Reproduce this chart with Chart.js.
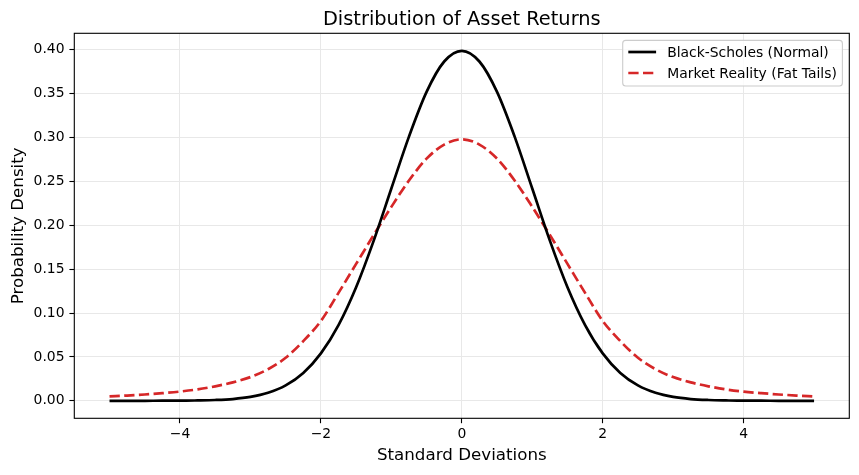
<!DOCTYPE html>
<html>
<head>
<meta charset="utf-8">
<script src="https://cdn.jsdelivr.net/npm/chart.js@4.4.0/dist/chart.umd.min.js"></script>
<style>
  html, body { margin: 0; padding: 0; background: #fff; }
  #wrap { width: 859px; height: 475px; }
</style>
</head>
<body>
<div id="wrap"><canvas id="chart" width="859" height="475"></canvas></div>
<script>
// Dữ liệu
const xValues = [-5, -4.75, -4.5, -4.25, -4, -3.75, -3.5, -3.25, -3, -2.75, -2.5, -2.25, -2, -1.75, -1.5, -1.25, -1, -0.75, -0.5, -0.25,
  0, 0.25, 0.5, 0.75, 1, 1.25, 1.5, 1.75, 2, 2.25, 2.5, 2.75, 3, 3.25, 3.5, 3.75, 4, 4.25, 4.5, 4.75, 5];
const normalValues = [0.0000, 0.0000, 0.0000, 0.0001, 0.0001, 0.0004, 0.0009, 0.0020, 0.0044, 0.0091, 0.0175, 0.0317, 0.0540, 0.0863, 0.1295, 0.1826, 0.2420, 0.3011, 0.3521, 0.3867,
  0.3989, 0.3867, 0.3521, 0.3011, 0.2420, 0.1826, 0.1295, 0.0863, 0.0540, 0.0317, 0.0175, 0.0091, 0.0044, 0.0020, 0.0009, 0.0004, 0.0001, 0.0001, 0.0000, 0.0000, 0.0000];
const fatTailValues = [0.0050, 0.0060, 0.0072, 0.0087, 0.0105, 0.0130, 0.0165, 0.0210, 0.0270, 0.0360, 0.0490, 0.0680, 0.0910, 0.1230, 0.1560, 0.1890, 0.2210, 0.2510, 0.2760, 0.2920,
  0.2980, 0.2920, 0.2760, 0.2510, 0.2210, 0.1890, 0.1560, 0.1230, 0.0910, 0.0680, 0.0490, 0.0360, 0.0270, 0.0210, 0.0165, 0.0130, 0.0105, 0.0087, 0.0072, 0.0060, 0.0050];
const seriesLabels = ['Black-Scholes (Normal)', 'Market Reality (Fat Tails)'];
const xTickValues = [-4, -2, 0, 2, 4];
const yTickValues = [0, 0.05, 0.10, 0.15, 0.20, 0.25, 0.30, 0.35, 0.40];
const chartTitle = 'Distribution of Asset Returns';

const FONT = 'DejaVu Sans';

// Khung, tiêu đề và chú thích kiểu matplotlib
const mplDecor = {
  id: 'mplDecor',
  afterDraw(chart) {
    const { ctx, chartArea: a } = chart;
    ctx.save();
    // khung trục
    ctx.strokeStyle = '#000';
    ctx.lineWidth = 1.1;
    ctx.strokeRect(a.left, a.top, a.right - a.left, a.bottom - a.top);

    // tiêu đề
    ctx.fillStyle = '#000';
    ctx.font = '19.4px "' + FONT + '"';
    ctx.textAlign = 'center';
    ctx.textBaseline = 'alphabetic';
    ctx.fillText(chartTitle, (a.left + a.right) / 2, 25);

    // chú thích
    const bx = 622.7, by = 40.4, bw = 219.7, bh = 45.6;
    ctx.beginPath();
    ctx.roundRect(bx, by, bw, bh, 3);
    ctx.fillStyle = 'rgba(255,255,255,0.8)';
    ctx.fill();
    ctx.strokeStyle = '#cccccc';
    ctx.lineWidth = 1.1;
    ctx.stroke();

    ctx.font = '13.9px "' + FONT + '"';
    ctx.textAlign = 'left';
    ctx.textBaseline = 'middle';
    chart.data.datasets.forEach((ds, i) => {
      const y = 52 + i * 21;
      ctx.beginPath();
      ctx.setLineDash(ds.borderDash || []);
      ctx.strokeStyle = ds.borderColor;
      ctx.lineWidth = ds.borderWidth;
      ctx.moveTo(628.3, y);
      ctx.lineTo(656.1, y);
      ctx.stroke();
      ctx.setLineDash([]);
      ctx.fillStyle = '#000';
      ctx.fillText(ds.label, 667.2, y + 1);
    });
    ctx.restore();
  }
};

const ctx = document.getElementById('chart').getContext('2d');
new Chart(ctx, {
  type: 'line',
  data: {
    datasets: [{
      label: seriesLabels[0],
      data: xValues.map((x, i) => ({ x: x, y: normalValues[i] })),
      borderColor: '#000000',
      borderWidth: 2.7,
      pointRadius: 0,
      fill: false,
      cubicInterpolationMode: 'monotone'
    }, {
      label: seriesLabels[1],
      data: xValues.map((x, i) => ({ x: x, y: fatTailValues[i] })),
      borderColor: '#d62728',
      borderWidth: 2.7,
      borderDash: [10.3, 4.4],
      pointRadius: 0,
      fill: false,
      cubicInterpolationMode: 'monotone'
    }]
  },
  options: {
    responsive: false,
    animation: false,
    devicePixelRatio: 1,
    layout: { padding: { top: 33.3, right: 9.7, left: 0, bottom: 0 } },
    plugins: {
      legend: { display: false },
      title: { display: false },
      tooltip: { enabled: false }
    },
    scales: {
      x: {
        type: 'linear',
        min: -5.5,
        max: 5.5,
        afterBuildTicks: (scale) => { scale.ticks = xTickValues.map(v => ({ value: v })); },
        afterFit: (scale) => { scale.height = 56.7; },
        border: { display: false },
        grid: { color: '#e8e8e8', lineWidth: 1, tickColor: '#000', tickLength: 4.9, tickWidth: 1.1 },
        ticks: {
          color: '#000',
          padding: 3,
          maxRotation: 0,
          font: { family: FONT, size: 13.9 },
          callback: (v) => (v < 0 ? '\u2212' + Math.abs(v) : String(v))
        },
        title: {
          display: true,
          text: 'Standard Deviations',
          color: '#000',
          font: { family: FONT, size: 16.7 },
          padding: { top: 0, bottom: 9 }
        }
      },
      y: {
        min: -0.01995,
        max: 0.41884,
        afterBuildTicks: (scale) => { scale.ticks = yTickValues.map(v => ({ value: v })); },
        afterFit: (scale) => { scale.width = 74.3; },
        border: { display: false },
        grid: { color: '#e8e8e8', lineWidth: 1, tickColor: '#000', tickLength: 4.9, tickWidth: 1.1 },
        ticks: {
          color: '#000',
          padding: 4.9,
          font: { family: FONT, size: 13.9 },
          callback: (v) => v.toFixed(2)
        },
        title: {
          display: true,
          text: 'Probability Density',
          color: '#000',
          font: { family: FONT, size: 16.7 },
          padding: { top: 8.7, bottom: 0 }
        }
      }
    }
  },
  plugins: [mplDecor]
});
</script>
</body>
</html>
